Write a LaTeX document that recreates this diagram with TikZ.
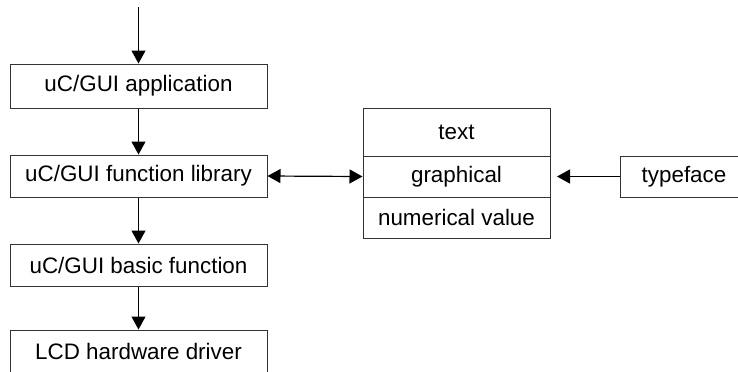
\documentclass[tikz,border=0pt]{standalone}
\usepackage{fontspec}
\setmainfont{Liberation Sans}
\usetikzlibrary{arrows.meta}
\begin{document}
\begin{tikzpicture}[x=.5pt,y=-.5pt,
    box/.style={draw=black!80,line width=.5pt,minimum width=128.5pt,minimum height=21pt,inner sep=0pt,font=\fontsize{11.2}{13}\selectfont},
    cell/.style={box,minimum width=93.5pt},
    arr/.style={line width=.6pt,-{Triangle[length=6.5pt,width=7pt]}},
    darr/.style={line width=.6pt,{Triangle[length=6.5pt,width=7pt]}-{Triangle[length=6.5pt,width=7pt]}}]
        \useasboundingbox (0,0) rectangle (738,371);
        \clip (0,0) rectangle (738,371);
        \coordinate (in) at (138.5,7);
        \node[box,minimum height=22pt] (app) at (138.5,86) {uC/GUI application};
        \node[box] (lib) at (138.5,176) {uC/GUI function library};
        \node[box] (basic) at (138.5,265) {uC/GUI basic function};
        \node[box] (lcd) at (138.5,351) {LCD hardware driver};
        \node[cell,minimum height=24pt] (text) at (456.5,132) {text};
        \node[cell,minimum height=20.5pt] (graph) at (456.5,176.5) {graphical};
        \node[cell,minimum height=20.5pt] (num) at (456.5,217.5) {numerical value};
        \node[box,minimum width=64pt,minimum height=20.5pt] (font) at (684,176.5) {typeface};
        \coordinate (tip) at (557,176.5);
        \draw[arr] (in) -- (app);
        \draw[arr] (app) -- (lib);
        \draw[arr] (lib) -- (basic);
        \draw[arr] (basic) -- (lcd);
        \draw[darr] (lib.east) -- (graph.west);
        \draw[arr] (font.west) -- (tip);
      \end{tikzpicture}
\end{document}
